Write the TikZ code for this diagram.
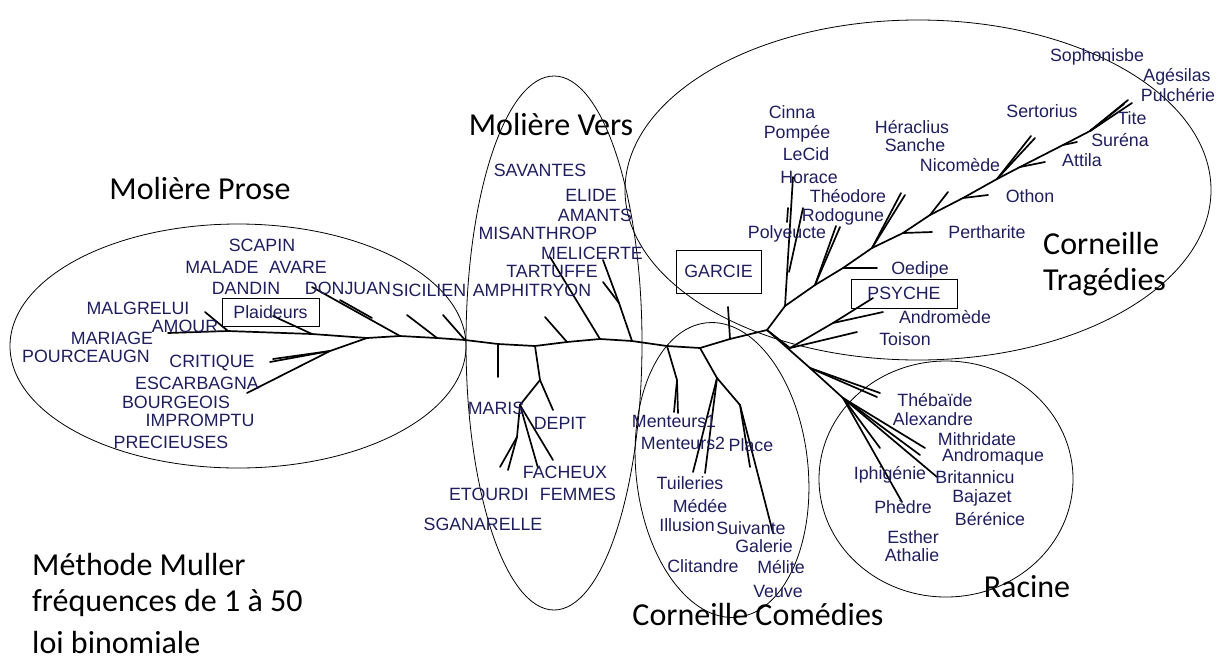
\documentclass[tikz,border=0pt]{standalone}
\usepackage{fontspec}
\setmainfont{Carlito}
\newfontfamily\labelfont{Liberation Sans}
\definecolor{playblue}{RGB}{30,30,95}

\begin{document}
\begin{tikzpicture}[x=1pt,y=-1pt,
	playlabel/.style={font=\labelfont\fontsize{17.8}{18}\selectfont, text=playblue, inner sep=0pt},
	grouptitle/.style={font=\fontsize{32}{38}\selectfont, inner sep=0pt},
	branchline/.style={line width=1.7pt, line cap=round},
	zoneline/.style={line width=0.8pt},
	boxlabel/.style={playlabel, draw=black, line width=0.8pt}]
	\useasboundingbox (0,0) rectangle (1230,659);

	% groups
	\draw[zoneline] (238,346) ellipse [x radius=228, y radius=122];
	\draw[zoneline] (554,343) ellipse [x radius=88, y radius=267];
	\draw[zoneline, rotate around={6:(722,470)}] (722,470) ellipse [x radius=86, y radius=148];
	\draw[zoneline] (918,190) ellipse [x radius=293, y radius=170];
	\draw[zoneline] (946,479) ellipse [x radius=127, y radius=118];

	% trunk
	\coordinate (t0) at (168,333);
	\coordinate (t1) at (228,331);
	\coordinate (t2) at (312,334);
	\coordinate (t3) at (367,338);
	\coordinate (t4) at (400,336);
	\coordinate (t5) at (437,338);
	\coordinate (t6) at (465,340);
	\coordinate (t7) at (498,344);
	\coordinate (t8) at (535,346);
	\coordinate (t9) at (567,342);
	\coordinate (t10) at (600,339);
	\coordinate (t11) at (632,341);
	\coordinate (t12) at (667,346);
	\coordinate (t13) at (700,348);
	\coordinate (t14) at (730,339);
	\coordinate (hub) at (767,330);
	\draw[branchline] (t0) -- (t1) -- (t2) -- (t3) -- (t4) -- (t5) -- (t6) -- (t7) -- (t8)
		-- (t9) -- (t10) -- (t11) -- (t12) -- (t13) -- (t14) -- (hub);

	% Moliere prose
	\coordinate (e-malgrelui) at (205,312);
	\coordinate (e-plaideurs) at (273,316);
	\coordinate (e-donjuan) at (312,287);
	\coordinate (d-donjuan) at (340,300);
	\coordinate (d-donjuan2) at (372,318);
	\coordinate (e-sicilien) at (407,315);
	\coordinate (e-sicilien2) at (443,315);
	\coordinate (j-critique) at (330,351);
	\coordinate (e-critique) at (270,362);
	\coordinate (e-critique2) at (273,359);
	\coordinate (e-escarbagna) at (247,393);
	\draw[branchline] (t1) -- (e-malgrelui);
	\draw[branchline] (t2) -- (e-plaideurs);
	\draw[branchline] (t4) -- (e-donjuan);
	\draw[branchline] (d-donjuan) -- (d-donjuan2);
	\draw[branchline] (t5) -- (e-sicilien);
	\draw[branchline] (t6) -- (e-sicilien2);
	\draw[branchline] (t3) -- (j-critique) -- (e-critique);
	\draw[branchline] (j-critique) -- (e-critique2);
	\draw[branchline] (j-critique) -- (e-escarbagna);

	% Moliere vers
	\coordinate (e-stub) at (498,377);
	\coordinate (m1) at (540,380);
	\coordinate (m2) at (520,405);
	\coordinate (m3) at (517,437);
	\coordinate (e-depit) at (553,410);
	\coordinate (e-etourdi) at (500,467);
	\coordinate (e-etourdi2) at (508,470);
	\coordinate (e-facheux) at (538,468);
	\coordinate (e-femmes) at (553,460);
	\coordinate (e-amphi) at (545,317);
	\coordinate (e-tartuffe) at (550,257);
	\coordinate (e-melicerte) at (603,260);
	\coordinate (v1) at (619,303);
	\coordinate (e-amants) at (603,282);
	\draw[branchline] (t7) -- (e-stub);
	\draw[branchline] (t8) -- (m1) -- (e-depit);
	\draw[branchline] (m1) -- (m2) -- (m3) -- (e-etourdi);
	\draw[branchline] (m3) -- (e-etourdi2);
	\draw[branchline] (m2) -- (e-facheux);
	\draw[branchline] (m2) -- (e-femmes);
	\draw[branchline] (t9) -- (e-amphi);
	\draw[branchline] (t10) -- (e-tartuffe);
	\draw[branchline] (t11) -- (v1) -- (e-melicerte);
	\draw[branchline] (v1) -- (e-amants);

	% Corneille comedies
	\coordinate (c1) at (677,380);
	\coordinate (c2) at (717,378);
	\coordinate (c3) at (740,405);
	\coordinate (e-menteurs) at (678,413);
	\coordinate (e-menteurs2) at (674,412);
	\coordinate (e-tuileries) at (705,473);
	\coordinate (e-tuileries2) at (693,472);
	\coordinate (e-place) at (750,467);
	\coordinate (e-suivante) at (773,533);
	\coordinate (e-garcie) at (728,307);
	\draw[branchline] (t12) -- (c1) -- (e-menteurs);
	\draw[branchline] (c1) -- (e-menteurs2);
	\draw[branchline] (t13) -- (c2) -- (e-tuileries);
	\draw[branchline] (c2) -- (e-tuileries2);
	\draw[branchline] (c2) -- (c3) -- (e-place);
	\draw[branchline] (c3) -- (e-suivante);
	\draw[branchline] (t14) -- (e-garcie);

	% Corneille tragedies
	\coordinate (g1) at (785,306);
	\coordinate (g2) at (815,285);
	\coordinate (g3) at (843,268);
	\coordinate (g4) at (872,248);
	\coordinate (g5) at (903,233);
	\coordinate (g6) at (930,215);
	\coordinate (g7) at (963,198);
	\coordinate (g8) at (997,179);
	\coordinate (g9) at (1020,167);
	\coordinate (g10) at (1063,145);
	\coordinate (g11) at (1090,131);
	\coordinate (g12) at (1128,100);
	\coordinate (e-horace) at (793,177);
	\coordinate (j-rodo) at (789,272);
	\coordinate (e-polyeucte) at (803,208);
	\coordinate (k-polyeucte) at (787,222);
	\coordinate (k-polyeucte2) at (788,208);
	\coordinate (e-rodogune) at (840,227);
	\coordinate (e-rodogune2) at (836,226);
	\coordinate (e-oedipe) at (877,268);
	\coordinate (e-theodore) at (905,195);
	\coordinate (e-theodore2) at (901,193);
	\coordinate (e-pertharite) at (932,232);
	\coordinate (e-nicomede) at (948,192);
	\coordinate (e-othon) at (988,195);
	\coordinate (e-sertorius) at (1035,138);
	\coordinate (e-sertorius2) at (1031,136);
	\coordinate (e-attila) at (1045,162);
	\coordinate (e-surena) at (1077,142);
	\coordinate (e-tite) at (1103,122);
	\coordinate (e-agesilas) at (1124,104);
	\coordinate (e-pulcherie) at (1132,103);
	\draw[branchline] (hub) -- (g1) -- (g2) -- (g3) -- (g4) -- (g5) -- (g6) -- (g7) -- (g8)
		-- (g9) -- (g10) -- (g11) -- (g12);
	\draw[branchline] (g11) -- (e-agesilas);
	\draw[branchline] (g11) -- (e-pulcherie);
	\draw[branchline] (g1) -- (e-horace);
	\draw[branchline] (j-rodo) -- (e-polyeucte);
	\draw[branchline] (k-polyeucte) -- (k-polyeucte2);
	\draw[branchline] (g2) -- (e-rodogune);
	\draw[branchline] (g2) -- (e-rodogune2);
	\draw[branchline] (g3) -- (e-oedipe);
	\draw[branchline] (g4) -- (e-theodore);
	\draw[branchline] (g4) -- (e-theodore2);
	\draw[branchline] (g5) -- (e-pertharite);
	\draw[branchline] (g6) -- (e-nicomede);
	\draw[branchline] (g7) -- (e-othon);
	\draw[branchline] (g8) -- (e-sertorius);
	\draw[branchline] (g8) -- (e-sertorius2);
	\draw[branchline] (g9) -- (e-attila);
	\draw[branchline] (g10) -- (e-surena);
	\draw[branchline] (g11) -- (e-tite);

	% Psyche
	\coordinate (p1) at (790,348);
	\coordinate (p2) at (833,323);
	\coordinate (e-psyche) at (873,298);
	\coordinate (e-andromede) at (883,312);
	\coordinate (e-toison) at (857,332);
	\draw[branchline] (hub) -- (p1) -- (p2) -- (e-psyche);
	\draw[branchline] (p2) -- (e-andromede);
	\draw[branchline] (p1) -- (e-toison);

	% Racine
	\coordinate (r1) at (810,368);
	\coordinate (r2) at (843,398);
	\coordinate (e-thebaide) at (880,393);
	\coordinate (e-thebaide2) at (877,397);
	\coordinate (e-mithridate) at (925,448);
	\coordinate (e-andromaque) at (920,455);
	\coordinate (e-britannicu) at (937,477);
	\coordinate (e-iphigenie) at (880,448);
	\coordinate (e-phedre) at (902,502);
	\draw[branchline] (hub) -- (r1) -- (r2) -- (e-mithridate);
	\draw[branchline] (r1) -- (e-thebaide);
	\draw[branchline] (r1) -- (e-thebaide2);
	\draw[branchline] (r2) -- (e-andromaque);
	\draw[branchline] (r2) -- (e-britannicu);
	\draw[branchline] (r2) -- (e-iphigenie);
	\draw[branchline] (r2) -- (e-phedre);

	% labels: Moliere prose
	\node[playlabel] (scapin) at (262,245) {SCAPIN};
	\node[playlabel] (malade) at (222,267) {MALADE};
	\node[playlabel] (avare) at (298,267) {AVARE};
	\node[playlabel] (dandin) at (246,288) {DANDIN};
	\node[playlabel] (donjuan) at (348,288) {DONJUAN};
	\node[playlabel] (sicilien) at (429,290) {SICILIEN};
	\node[boxlabel, minimum width=97, minimum height=28] (plaideurs) at (270.5,312) {Plaideurs};
	\node[playlabel] (malgrelui) at (138,308) {MALGRELUI};
	\node[playlabel] (amour) at (185,326) {AMOUR};
	\node[playlabel] (mariage) at (112,338) {MARIAGE};
	\node[playlabel] (pourceaugn) at (86,356) {POURCEAUGN};
	\node[playlabel] (critique) at (212,363) {CRITIQUE};
	\node[playlabel] (escarbagna) at (197,383) {ESCARBAGNA};
	\node[playlabel] (bourgeois) at (176,402) {BOURGEOIS};
	\node[playlabel] (impromptu) at (200,420) {IMPROMPTU};
	\node[playlabel] (precieuses) at (171,442) {PRECIEUSES};

	% labels: Moliere vers
	\node[playlabel] (savantes) at (540,170) {SAVANTES};
	\node[playlabel] (elide) at (591,195) {ELIDE};
	\node[playlabel] (amants) at (595,215) {AMANTS};
	\node[playlabel] (misanthrop) at (538,233) {MISANTHROP};
	\node[playlabel] (melicerte) at (592,253) {MELICERTE};
	\node[playlabel] (tartuffe) at (552,271) {TARTUFFE};
	\node[playlabel] (amphitryon) at (532,290) {AMPHITRYON};
	\node[playlabel] (maris) at (496,408) {MARIS};
	\node[playlabel] (depit) at (560,423) {DEPIT};
	\node[playlabel] (facheux) at (565,472) {FACHEUX};
	\node[playlabel] (etourdi) at (489,494) {ETOURDI};
	\node[playlabel] (femmes) at (578,494) {FEMMES};
	\node[playlabel] (sganarelle) at (483,524) {SGANARELLE};

	% labels: Corneille comedies
	\node[playlabel] (menteurs1) at (674,421) {Menteurs1};
	\node[playlabel] (menteurs2) at (683,443) {Menteurs2};
	\node[playlabel] (place) at (751,445) {Place};
	\node[playlabel] (tuileries) at (690,483) {Tuileries};
	\node[playlabel] (medee) at (700,506) {Médée};
	\node[playlabel] (illusion) at (687,525) {Illusion};
	\node[playlabel] (suivante) at (751,528) {Suivante};
	\node[playlabel] (galerie) at (764,546) {Galerie};
	\node[playlabel] (clitandre) at (703,566) {Clitandre};
	\node[playlabel] (melite) at (781,567) {Mélite};
	\node[playlabel] (veuve) at (778,591) {Veuve};

	% labels: Corneille tragedies
	\node[boxlabel, minimum width=85, minimum height=43] (garcie) at (718.5,271.5) {GARCIE};
	\node[playlabel] (cinna) at (792,112) {Cinna};
	\node[playlabel] (pompee) at (797,134) {Pompée};
	\node[playlabel] (lecid) at (806,154) {LeCid};
	\node[playlabel] (horace) at (809,177) {Horace};
	\node[playlabel] (theodore) at (848,196) {Théodore};
	\node[playlabel] (rodogune) at (843,217) {Rodogune};
	\node[playlabel] (polyeucte) at (787,234) {Polyeucte};
	\node[playlabel] (heraclius) at (912,127) {Héraclius};
	\node[playlabel] (sanche) at (915,145) {Sanche};
	\node[playlabel] (nicomede) at (960,165) {Nicomède};
	\node[playlabel] (sertorius) at (1042,111) {Sertorius};
	\node[playlabel] (sophonisbe) at (1097,57) {Sophonisbe};
	\node[playlabel] (agesilas) at (1177,77) {Agésilas};
	\node[playlabel] (pulcherie) at (1178,95) {Pulchérie};
	\node[playlabel] (tite) at (1132,118) {Tite};
	\node[playlabel] (surena) at (1120,140) {Suréna};
	\node[playlabel] (attila) at (1082,160) {Attila};
	\node[playlabel] (othon) at (1030,196) {Othon};
	\node[playlabel] (pertharite) at (987,232) {Pertharite};
	\node[playlabel] (oedipe) at (920,270) {Oedipe};
	\node[boxlabel, minimum width=106, minimum height=29] (psyche) at (904,293.5) {PSYCHE};
	\node[playlabel] (andromede) at (945,317) {Andromède};
	\node[playlabel] (toison) at (905,339) {Toison};

	% labels: Racine
	\node[playlabel] (thebaide) at (935,400) {Thébaïde};
	\node[playlabel] (alexandre) at (933,419) {Alexandre};
	\node[playlabel] (mithridate) at (977,439) {Mithridate};
	\node[playlabel] (andromaque) at (993,457) {Andromaque};
	\node[playlabel] (iphigenie) at (890,475) {Iphigénie};
	\node[playlabel] (britannicu) at (975,477) {Britannicu};
	\node[playlabel] (bajazet) at (982,498) {Bajazet};
	\node[playlabel] (phedre) at (903,507) {Phèdre};
	\node[playlabel] (berenice) at (990,519) {Bérénice};
	\node[playlabel] (esther) at (913,537) {Esther};
	\node[playlabel] (athalie) at (912,555) {Athalie};

	% group titles
	\node[grouptitle] (prose) at (200,189) {Molière Prose};
	\node[grouptitle] (vers) at (551,125) {Molière Vers};
	\node[grouptitle, anchor=west] (trag1) at (1043,243) {Corneille};
	\node[grouptitle, anchor=west] (trag2) at (1043,282) {Tragédies};
	\node[grouptitle] (comedies) at (758,614) {Corneille Comédies};
	\node[grouptitle] (racine) at (1027,587) {Racine};
	\node[grouptitle, anchor=west] (note1) at (32,564) {Méthode Muller};
	\node[grouptitle, anchor=west] (note2) at (32,603) {fréquences de 1 à 50};
	\node[grouptitle, anchor=west] (note3) at (32,642) {loi binomiale};
\end{tikzpicture}
\end{document}
